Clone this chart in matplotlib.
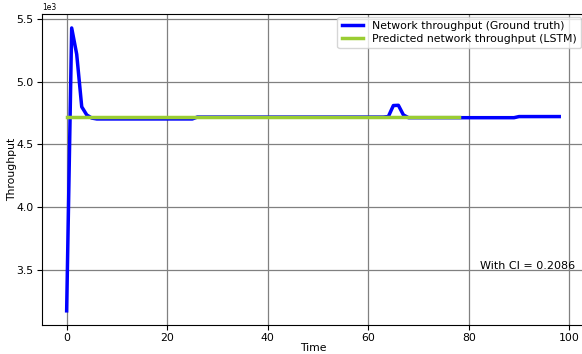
import matplotlib
matplotlib.use("Agg")
import matplotlib.pyplot as plt

# Ground truth throughput, one value per time step (0..98)
truth_head = [3170, 5430, 5220, 4800, 4735, 4710]
truth_low = [4703] * 20            # steps 6..25
truth_mid = [4718] * 38            # steps 26..63
truth_bump = [4722, 4810, 4812, 4735]   # steps 64..67
truth_tail_a = [4713] * 22         # steps 68..89
truth_tail_b = [4722] * 9          # steps 90..98
ground_truth = truth_head + truth_low + truth_mid + truth_bump + truth_tail_a + truth_tail_b
time_truth = list(range(len(ground_truth)))

# LSTM prediction, steps 0..78
predicted = [4722] * 79
time_pred = list(range(len(predicted)))

ci_text = "With CI = 0.2086"

fig = plt.figure(figsize=(5.82, 3.54), dpi=100)
ax = fig.add_axes([0.0722, 0.082, 0.931, 0.879])

ax.plot(time_truth, ground_truth, color="blue", linewidth=2.5,
        label="Network throughput (Ground truth)", zorder=3)
ax.plot(time_pred, predicted, color="yellowgreen", linewidth=2.5,
        label="Predicted network throughput (LSTM)", zorder=4)

ax.ticklabel_format(axis="y", style="sci", scilimits=(0, 0), useMathText=False)
ax.yaxis.get_offset_text().set_fontsize(5.5)
ax.set_yticks([3500, 4000, 4500, 5000, 5500])
ax.set_xticks([0, 20, 40, 60, 80, 100])

ax.grid(True, color="#808080", linewidth=0.9)
ax.set_axisbelow(True)
ax.tick_params(labelsize=7.8, length=3.5, width=0.8, pad=2.5)
ax.set_xlabel("Time", fontsize=7.8, labelpad=-0.5)
ax.set_ylabel("Throughput", fontsize=7.8, labelpad=-0.5)
ax.spines["right"].set_visible(False)

ax.text(82.3, 3530, ci_text, fontsize=8, va="center", ha="left")

ax.legend(loc="upper right", fontsize=7.8, borderaxespad=0.25,
          framealpha=0.8, labelspacing=0.25)

fig.savefig("out.png", dpi=100)
